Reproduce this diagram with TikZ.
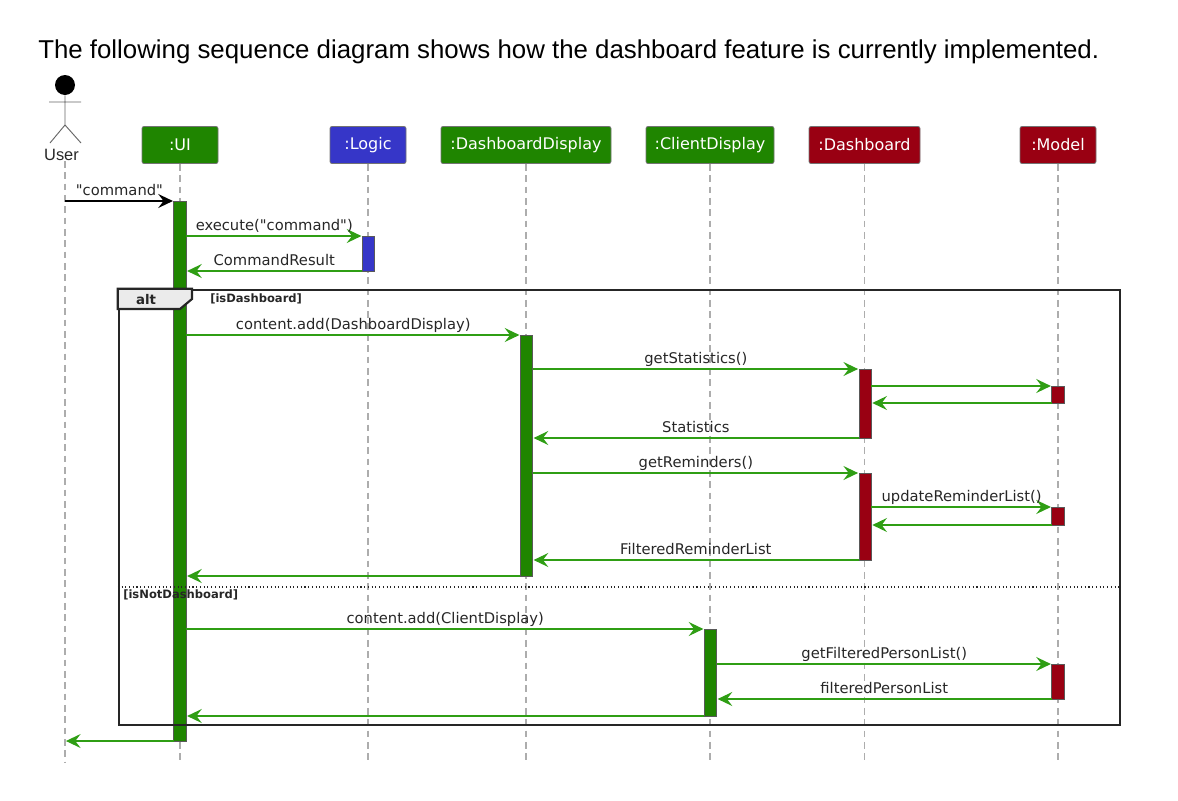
\documentclass[tikz,border=0pt]{standalone}
\usepackage{fontspec}
\setmainfont{Liberation Sans}
\newfontfamily\umlfont{DejaVu Sans}
\usetikzlibrary{arrows.meta}
\definecolor{uigreen}{HTML}{1F8500}
\definecolor{msggreen}{HTML}{2F9E14}
\definecolor{logicblue}{HTML}{3636C8}
\definecolor{modelred}{HTML}{990012}
\tikzset{
  head/.style={draw=black!55,line width=.6pt,rounded corners=1.5pt,minimum height=27.75pt,inner sep=0pt,text=white,font=\umlfont\fontsize{12}{12}\selectfont},
  lifeline/.style={draw=black!32,line width=1pt,dash pattern=on 5pt off 3.5pt},
  actbar/.style={draw=black!65,line width=.6pt,minimum width=9.25pt,inner sep=0pt,outer sep=0pt,anchor=north},
  msg/.style={->,draw=msggreen,line width=.95pt,shorten >=.7pt},
  msglabel/.style={anchor=base,inner sep=0pt,yshift=4.5pt,text=black!85,font=\umlfont\fontsize{11.05}{11.05}\selectfont}
}

\begin{document}
\begin{tikzpicture}[x=.75pt,y=-.75pt,>={Stealth[length=11pt,width=10.5pt,inset=4pt]}]
  \useasboundingbox (0,0) rectangle (1178,800);

  \node (title) [anchor=base west,inner sep=0pt,font=\fontsize{19.37}{19.37}\selectfont] at (38,58)
    {The following sequence diagram shows how the dashboard feature is currently implemented.};

  % participants
  \node[head,fill=uigreen,minimum width=57pt]     (ui)     at (180,145)   {:UI};
  \node[head,fill=logicblue,minimum width=57pt]   (logic)  at (368,145)   {:Logic};
  \node[head,fill=uigreen,minimum width=127.5pt]  (dd)     at (526,145)   {:DashboardDisplay};
  \node[head,fill=uigreen,minimum width=96pt]     (cd)     at (710,145)   {:ClientDisplay};
  \node[head,fill=modelred,minimum width=83.25pt] (dash)   at (864.5,145) {:Dashboard};
  \node[head,fill=modelred,minimum width=57pt]    (model)  at (1058,145)  {:Model};

  % the actor
  \node[circle,fill=black,minimum size=15pt,inner sep=0pt] (userhead) at (65,85) {};
  \coordinate (neck) at (65,125);
  \coordinate (userarml) at (49,102);
  \coordinate (userarmr) at (81,102);
  \coordinate (userlegl) at (50,143);
  \coordinate (userlegr) at (81,143);
  \draw[black!60,line width=.7pt] (userhead) -- (neck) -- (userlegl) (neck) -- (userlegr) (userarml) -- (userarmr);
  \node (user) [inner sep=0pt,text=black!85,font=\fontsize{12.3}{12.3}\selectfont] at (61.5,155) {User};

  % lifelines
  \coordinate (userbot) at (65,762);
  \draw[lifeline] (user.south -| userbot) -- (userbot);
  \foreach \p in {ui,logic,dd,cd,dash,model}
    \draw[lifeline] (\p.south) -- (\p.south |- userbot);

  % activation bars
  \node[actbar,fill=uigreen,minimum height=405pt]     (uibar)    at (180,201)    {};
  \node[actbar,fill=logicblue,minimum height=26.25pt] (logicbar) at (368.5,236)  {};
  \node[actbar,fill=uigreen,minimum height=180.75pt]  (ddbar)    at (526.5,335)  {};
  \node[actbar,fill=uigreen,minimum height=65.25pt]   (cdbar)    at (710.5,629)  {};
  \node[actbar,fill=modelred,minimum height=51.75pt]  (dasha)    at (865.2,369)  {};
  \node[actbar,fill=modelred,minimum height=65.25pt]  (dashb)    at (865.2,473)  {};
  \node[actbar,fill=modelred,minimum height=12.75pt]  (modela)   at (1058,386)   {};
  \node[actbar,fill=modelred,minimum height=13.5pt]   (modelb)   at (1058,507)   {};
  \node[actbar,fill=modelred,minimum height=26.25pt]  (modelc)   at (1058,664)   {};

  % alt frame
  \node (alt) [draw=black!85,line width=1.6pt,minimum width=751pt,minimum height=326.5pt,inner sep=0pt,anchor=north west] at (117.8,288.8) {};
  \coordinate (divider) at (117.8,587);
  \draw[black!85,line width=.8pt,dotted] (divider) -- (divider -| alt.east);
  \draw[draw=black!85,line width=1.6pt,fill=black!8] (alt.north west) -- (192,288.8) -- (192,299) -- (180,309) -- (117.8,309) -- cycle;
  \node (alttag) [inner sep=0pt,font=\umlfont\bfseries\fontsize{10}{10}\selectfont,text=black!85] at (146,300) {alt};
  \node (guarda) [inner sep=0pt,anchor=west,font=\umlfont\bfseries\fontsize{8.65}{8.65}\selectfont,text=black!85] at (210,299) {[isDashboard]};
  \node (guardb) [inner sep=0pt,anchor=west,font=\umlfont\bfseries\fontsize{8.65}{8.65}\selectfont,text=black!85] at (123,594.5) {[isNotDashboard]};

  % messages
  \draw[msg,draw=black] (uibar.north west -| userbot) -- node[msglabel] {"command"} (uibar.north west);
  \draw[msg] (uibar.east |- logicbar.north) -- node[msglabel] {execute("command")} (logicbar.north west);
  \draw[msg] (logicbar.south west) -- node[msglabel] {CommandResult} (uibar.east |- logicbar.south);
  \draw[msg] (uibar.east |- ddbar.north) -- node[msglabel] {content.add(DashboardDisplay)} (ddbar.north west);
  \draw[msg] (ddbar.east |- dasha.north) -- node[msglabel] {getStatistics()} (dasha.north west);
  \draw[msg] (dasha.east |- modela.north) -- (modela.north west);
  \draw[msg] (modela.south west) -- (dasha.east |- modela.south);
  \draw[msg] (dasha.south west) -- node[msglabel] {Statistics} (ddbar.east |- dasha.south);
  \draw[msg] (ddbar.east |- dashb.north) -- node[msglabel] {getReminders()} (dashb.north west);
  \draw[msg] (dashb.east |- modelb.north) -- node[msglabel] {updateReminderList()} (modelb.north west);
  \draw[msg] (modelb.south west) -- (dashb.east |- modelb.south);
  \draw[msg] (dashb.south west) -- node[msglabel] {FilteredReminderList} (ddbar.east |- dashb.south);
  \draw[msg] (ddbar.south west) -- (uibar.east |- ddbar.south);
  \draw[msg] (uibar.east |- cdbar.north) -- node[msglabel] {content.add(ClientDisplay)} (cdbar.north west);
  \draw[msg] (cdbar.east |- modelc.north) -- node[msglabel] {getFilteredPersonList()} (modelc.north west);
  \draw[msg] (modelc.south west) -- node[msglabel] {filteredPersonList} (cdbar.east |- modelc.south);
  \draw[msg] (cdbar.south west) -- (uibar.east |- cdbar.south);
  \draw[msg] (uibar.south west) -- (uibar.south west -| userbot);
\end{tikzpicture}
\end{document}
